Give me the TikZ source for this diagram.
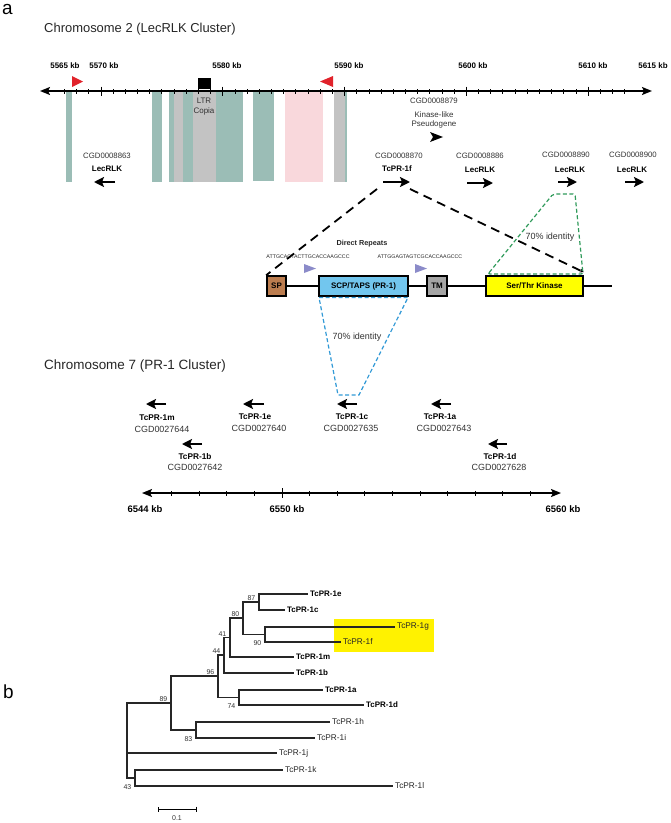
\documentclass[tikz,border=0pt]{standalone}
\usepackage{fontspec}
\setmainfont{Liberation Sans}
\usepackage{tikz}
\usetikzlibrary{positioning,arrows.meta}
\definecolor{cteal}{HTML}{9BBDB6}
\definecolor{cgris}{HTML}{C3C3C3}
\definecolor{crosa}{HTML}{F9D8DC}
\definecolor{crojo}{HTML}{E1232B}
\definecolor{clila}{HTML}{8B8BC9}
\definecolor{csp}{HTML}{BC7D4F}
\definecolor{cscp}{HTML}{72C6EE}
\definecolor{ctm}{HTML}{A5A5A5}
\definecolor{camar}{HTML}{FFFF00}
\definecolor{cverde}{HTML}{2F9A5A}
\definecolor{cazul}{HTML}{3199D6}
\definecolor{cresal}{HTML}{FFF200}
\definecolor{ctexto}{HTML}{333333}
\newcommand{\fsz}[1]{\fontsize{#1}{#1}\selectfont}
\tikzset{
  panel/.style={anchor=base west, inner sep=0pt, font=\fsz{19}},
  titulo/.style={anchor=base west, inner sep=0pt, font=\fsz{13}, text=black!85},
  kb/.style={inner sep=0pt, font=\fsz{8}\bfseries},
  kb7/.style={inner sep=0pt, font=\fsz{9.5}\bfseries},
  gid/.style={inner sep=0pt, font=\fsz{7.8}, text=ctexto},
  gnom/.style={inner sep=0pt, font=\fsz{8}\bfseries},
  gid7/.style={inner sep=0pt, font=\fsz{9}, text=ctexto},
  gnom7/.style={inner sep=0pt, font=\fsz{8.3}\bfseries},
  nota/.style={inner sep=0pt, align=center, font=\fontsize{8}{9.5}\selectfont, text=ctexto},
  gen/.style={-{Stealth[length=10bp,width=10bp,inset=2bp]}, line width=2.2bp},
  eje/.style={{Stealth[length=10bp,width=8bp,inset=2bp]}-{Stealth[length=10bp,width=8bp,inset=2bp]}, line width=1.6bp},
  tic/.style={line width=0.9bp},
  dom/.style={draw, line width=1.6bp, minimum height=20bp, inner sep=0pt, font=\fsz{8}\bfseries},
  linea/.style={line width=1.6bp},
  enlace/.style={line width=1.8bp, dash pattern=on 9bp off 6bp},
  ident/.style={line width=1.2bp, dash pattern=on 4bp off 2.5bp},
  pct/.style={inner sep=0pt, font=\fsz{9}, text=ctexto},
  secu/.style={inner sep=0pt, font=\fsz{5.3}, text=black!85},
  rama/.style={line width=1.1bp, draw=black!85},
  hoja/.style={anchor=west, inner sep=2bp, font=\fsz{8.3}, text=black!85},
  hojab/.style={hoja, font=\fsz{8}\bfseries, text=black},
  boot/.style={inner sep=0.5bp, font=\fsz{7}, text=ctexto},
}
\begin{document}
\begin{tikzpicture}[x=1bp,y=-1bp]
  \useasboundingbox (0,0) rectangle (671,823);

  % panel a: chromosome 2
  \node[panel] (pa) at (2,14) {a};
  \node[titulo] (t2) at (44,32) {Chromosome 2 (LecRLK Cluster)};

  \fill[cteal] (66,92) rectangle (72,182);
  \fill[cteal] (152,92) rectangle (162,182);
  \fill[cteal] (169,92) rectangle (174,182);
  \fill[cgris] (174,92) rectangle (183,182);
  \fill[cteal] (183,92) rectangle (193,182);
  \fill[cgris] (193,92) rectangle (216,182);
  \fill[cteal] (216,92) rectangle (243,182);
  \fill[cteal] (253,92) rectangle (274,181);
  \fill[crosa] (285,92) rectangle (323,182);
  \fill[cgris] (334,92) rectangle (345,182);
  \fill[cteal] (345,92) rectangle (347,182);

  \coordinate (e2a) at (40,91);
  \coordinate (e2b) at (652,91);
  \draw[eje] (e2a) -- (e2b);
  \foreach \k in {-3,...,43} \draw[tic] ({101+12.18*\k},89) -- ++(0,4.5);
  \foreach \k in {0,10,...,40} \draw[tic] ({101+12.18*\k},86.5) -- ++(0,9);

  \node[kb] (k65) at (65,66) {5565 kb};
  \node[kb] (k70) at (104,66) {5570 kb};
  \node[kb] (k80) at (227,66) {5580 kb};
  \node[kb] (k90) at (349,66) {5590 kb};
  \node[kb] (k00) at (473,66) {5600 kb};
  \node[kb] (k10) at (593,66) {5610 kb};
  \node[kb] (k15) at (653,66) {5615 kb};

  \fill[crojo] (72,76) -- (83,81.5) -- (72,87) -- cycle;
  \fill[crojo] (333,76) -- (320,81.5) -- (333,87) -- cycle;
  \fill (198,78) rectangle (211,89);
  \node[nota] (ltr) at (204,106.5) {LTR\\Copia};

  % genes on chromosome 2
  \node[gid] (c63) at (107,156) {CGD0008863};
  \node[gnom] (n63) at (107,169) {LecRLK};
  \draw[gen] (115,182) -- (94,182);
  \node[gid] (c79) at (434,101) {CGD0008879};
  \node[nota] (n79) at (434,120) {Kinase-like\\Pseudogene};
  \fill (430,132) -- (443,137) -- (430,142) -- (433,137) -- cycle;
  \node[gid] (c70) at (399,156) {CGD0008870};
  \node[gnom] (n70) at (397,169) {TcPR-1f};
  \draw[gen] (383,182) -- (410,182);
  \node[gid] (c86) at (480,156) {CGD0008886};
  \node[gnom] (n86) at (480,170) {LecRLK};
  \draw[gen] (467,183) -- (493,183);
  \node[gid] (c90) at (566,155) {CGD0008890};
  \node[gnom] (n90g) at (570,170) {LecRLK};
  \draw[gen] (558,182) -- (577,182);
  \node[gid] (c00) at (633,155) {CGD0008900};
  \node[gnom] (n00) at (632,170) {LecRLK};
  \draw[gen] (625,182) -- (644,182);

  % domain structure of TcPR-1f
  \node[dom, fill=csp, minimum width=19bp] (sp) at (276.5,286) {SP};
  \node[dom, fill=cscp, minimum width=89bp] (scp) at (363.5,286) {SCP/TAPS (PR-1)};
  \node[dom, fill=ctm, minimum width=20bp] (tm) at (437,286) {TM};
  \node[dom, fill=camar, minimum width=97bp] (kin) at (534.5,286) {Ser/Thr Kinase};
  \coordinate (fin) at (612,286);
  \draw[linea] (sp) -- (scp) (scp) -- (tm) (tm) -- (kin) (kin) -- (fin);

  \node[inner sep=0pt, font=\fsz{7.3}\bfseries, text=black!85] (dr) at (362,244) {Direct Repeats};
  \node[secu] (s1) at (308,257) {ATTGCACTACTTGCACCAAGCCC};
  \node[secu] (s2) at (420,257) {ATTGGAGTAGTCGCACCAAGCCC};
  \fill[clila] (304,264) -- (316,268.5) -- (304,273) -- cycle;
  \fill[clila] (415,264) -- (427,268.5) -- (415,273) -- cycle;

  \coordinate (f1l) at (377,189);
  \coordinate (f1r) at (410,189);
  \draw[enlace] (f1l) -- (sp.north west);
  \draw[enlace, -{Stealth[length=4bp,width=4bp]}] (f1r) -- ([yshift=3bp]kin.north east);

  \draw[ident, draw=cverde, rounded corners=2bp] (488,274) -- (553,194) -- (575,194) -- (583,274) -- cycle;
  \node[pct] (pk) at (550,237) {70\% identity};
  \draw[ident, draw=cazul] (319,297.5) -- (408,297.5) -- (359,395) -- (338,395) -- cycle;
  \node[pct] (pp) at (357,337) {70\% identity};

  % chromosome 7
  \node[titulo, font=\fsz{13.5}] (t7) at (44,369) {Chromosome 7 (PR-1 Cluster)};
  \draw[gen] (166,404) -- (146,404);
  \node[gnom7] (g1m) at (157,418) {TcPR-1m};
  \node[gid7] (c44) at (162,429) {CGD0027644};
  \draw[gen] (264,404) -- (243,404);
  \node[gnom7] (g1e) at (255,417) {TcPR-1e};
  \node[gid7] (c40) at (259,428) {CGD0027640};
  \draw[gen] (357,404) -- (337,404);
  \node[gnom7] (g1c) at (352,417) {TcPR-1c};
  \node[gid7] (c35) at (351,428) {CGD0027635};
  \draw[gen] (451,404) -- (431,404);
  \node[gnom7] (g1a) at (440,417) {TcPR-1a};
  \node[gid7] (c43) at (444,428) {CGD0027643};
  \draw[gen] (202,444) -- (182,444);
  \node[gnom7] (g1b) at (195,457) {TcPR-1b};
  \node[gid7] (c42) at (195,467) {CGD0027642};
  \draw[gen] (507,444) -- (488,444);
  \node[gnom7] (g1d) at (500,457) {TcPR-1d};
  \node[gid7] (c28) at (499,467) {CGD0027628};

  \coordinate (e7a) at (142,493);
  \coordinate (e7b) at (561,493);
  \draw[eje] (e7a) -- (e7b);
  \foreach \k in {-4,...,9} \draw[tic] ({282+27.6*\k},491) -- ++(0,4.5);
  \draw[tic] (282,488) -- ++(0,10);
  \node[kb7] (k44) at (145,509) {6544 kb};
  \node[kb7] (k50) at (287,509) {6550 kb};
  \node[kb7] (k60) at (563,509) {6560 kb};

  % panel b: tree
  \node[panel] (pb) at (3,698) {b};
  \fill[cresal] (334,619) rectangle (434,652);

  \coordinate (root) at (127,740.5);
  \coordinate (n89) at (171,703);
  \coordinate (n96) at (218,676);
  \coordinate (n44) at (224,655);
  \coordinate (n41) at (230,637.5);
  \coordinate (n80) at (243,618);
  \coordinate (n87) at (259,602);
  \coordinate (n90) at (265,634.5);
  \coordinate (n74) at (239,697.5);
  \coordinate (n83) at (196,730);
  \coordinate (n43) at (135,778);

  \node[hojab] (t1e) at (308,594) {TcPR-1e};
  \node[hojab] (t1c) at (285,610) {TcPR-1c};
  \node[hoja] (t1g) at (395,627) {TcPR-1g};
  \node[hoja] (t1f) at (341,642) {TcPR-1f};
  \node[hojab] (t1m) at (294,657) {TcPR-1m};
  \node[hojab] (t1b) at (294,673) {TcPR-1b};
  \node[hojab] (t1a) at (323,690) {TcPR-1a};
  \node[hojab] (t1d) at (364,705) {TcPR-1d};
  \node[hoja] (t1h) at (330,722) {TcPR-1h};
  \node[hoja] (t1i) at (315,738) {TcPR-1i};
  \node[hoja] (t1j) at (277,753) {TcPR-1j};
  \node[hoja] (t1k) at (283,770) {TcPR-1k};
  \node[hoja] (t1l) at (393,786) {TcPR-1l};

  \draw[rama] (n87) |- (t1e) (n87) |- (t1c);
  \draw[rama] (n90) |- (t1g) (n90) |- (t1f);
  \draw[rama] (n80) |- (n87) (n80) |- (n90);
  \draw[rama] (n41) |- (n80) (n41) |- (t1m);
  \draw[rama] (n44) |- (n41) (n44) |- (t1b);
  \draw[rama] (n74) |- (t1a) (n74) |- (t1d);
  \draw[rama] (n96) |- (n44) (n96) |- (n74);
  \draw[rama] (n83) |- (t1h) (n83) |- (t1i);
  \draw[rama] (n89) |- (n96) (n89) |- (n83);
  \draw[rama] (n43) |- (t1k) (n43) |- (t1l);
  \draw[rama] (root) |- (n89) (root) |- (t1j) (root) |- (n43);

  \node[boot, above left=0.5bp and 3bp of n87] (b87) {87};
  \node[boot, above left=0.5bp and 3bp of n80] (b80) {80};
  \node[boot, above left=0.5bp and 3bp of n41] (b41) {41};
  \node[boot, above left=0.5bp and 3bp of n44] (b44) {44};
  \node[boot, above left=0.5bp and 3bp of n96] (b96) {96};
  \node[boot, above left=0.5bp and 3bp of n89] (b89) {89};
  \node[boot, anchor=east, xshift=-3bp, yshift=-1.5bp] (b90) at (n90 |- t1f) {90};
  \node[boot, anchor=east, xshift=-3bp, yshift=-1.5bp] (b74) at (n74 |- t1d) {74};
  \node[boot, anchor=east, xshift=-3bp, yshift=-1.5bp] (b83) at (n83 |- t1i) {83};
  \node[boot, anchor=east, xshift=-3bp, yshift=-1.5bp] (b43) at (n43 |- t1l) {43};

  \coordinate (s0) at (158,809);
  \coordinate (s1) at (197,809);
  \draw[line width=0.8bp, {Bar[width=5bp]}-{Bar[width=5bp]}] (s0) -- (s1);
  \node[boot] (sb) at (177,818) {0.1};
\end{tikzpicture}
\end{document}
